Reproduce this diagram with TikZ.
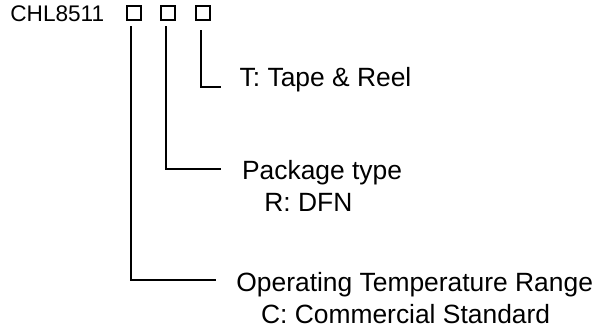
\documentclass[tikz,border=0pt]{standalone}
\usepackage{fontspec}
\setmainfont{Liberation Sans}
\usetikzlibrary{calc,positioning}

\begin{document}
\begin{tikzpicture}[x=0.5pt, y=-0.5pt,
  lbl/.style={anchor=base west, inner sep=0pt, font=\fontsize{13.2}{15.8}\selectfont},
  sq/.style={draw, line width=1pt, minimum size=7pt, inner sep=0pt},
  conn/.style={line width=1pt}]
  \useasboundingbox (0,0) rectangle (600,328);
  \node[lbl, font=\fontsize{11.3}{13.5}\selectfont] (pn) at (10,21.7) {CHL8511};
  \node[sq] (b1) at (134,13) {};
  \node[sq] (b2) at (168,13) {};
  \node[sq] (b3) at (202.5,13) {};
  \node[lbl] (tape) at (239.3,86) {T: Tape \& Reel};
  \node[lbl] (pkg) at (241.7,179.3) {Package type};
  \node[lbl] (pkgr) at (264,211) {R: DFN};
  \node[lbl] (temp) at (236,291.7) {Operating Temperature Range};
  \node[lbl] (tempc) at (260.7,323.3) {C: Commercial Standard};
  \draw[conn] ($(b3.south)+(-1.5,9)$) |- ($(tape.base west)+(-18.6,1.3)$);
  \draw[conn] ($(b2.south)+(-2,5)$) |- ($(pkg.base west)+(-20.7,-10)$);
  \draw[conn] ($(b1.south)+(-3,5)$) |- ($(temp.base west)+(-20,-11.7)$);
\end{tikzpicture}
\end{document}
